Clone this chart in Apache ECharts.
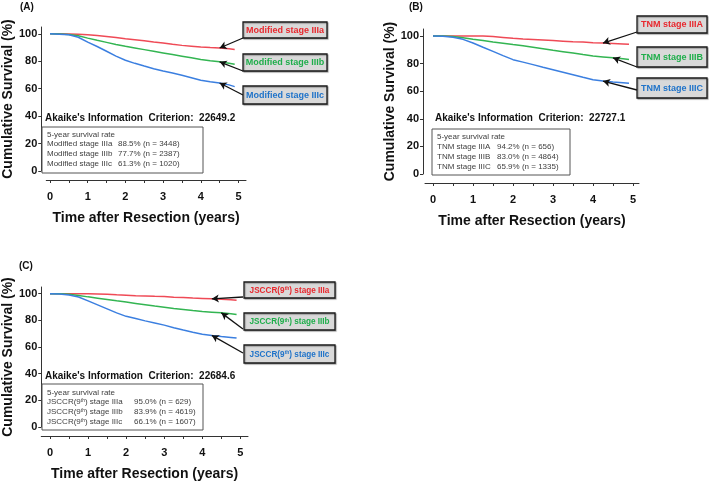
<!DOCTYPE html>
<html><head><meta charset="utf-8">
<script src="https://cdn.jsdelivr.net/npm/echarts@6/dist/echarts.min.js"></script>
<style>html,body{margin:0;padding:0;background:#fff}#c{width:709px;height:482px}</style>
</head><body><div id="c"></div>
<script>
// ---- data ----
const times = [0,0.25,0.5,0.75,1,1.25,1.5,1.75,2,2.25,2.5,2.75,3,3.25,3.5,3.75,4,4.25,4.5,4.75,4.9];
const xTickValues = [0,0.5,1,1.5,2,2.5,3,3.5,4,4.5,5];
const xLabelValues = [0,1,2,3,4,5];
const yLabelValues = [0,20,40,60,80,100];

// Panel A: modified stage
const aNames = ['Modified stage IIIa','Modified stage IIIb','Modified stage IIIc'];
const aIIIa = [100,100,99.9,99.7,99.3,98.8,98.1,97.3,96.4,95.7,95.0,94.1,93.3,92.4,91.6,91.0,90.4,90.0,89.7,89.2,88.6];
const aIIIb = [100,99.9,99.5,98.6,96.9,95.3,93.8,92.3,90.9,89.7,88.5,87.3,86.1,84.9,83.7,82.5,81.3,80.4,79.6,78.6,77.9];
const aIIIc = [100,99.8,99.3,97.5,94.0,90.8,87.3,83.8,80.8,78.5,76.5,74.6,72.9,71.4,69.8,68.0,66.2,65.0,64.2,62.8,61.5];
const aAIC = "Akaike's Information  Criterion:  22649.2";
const aRates = ['88.5% (n = 3448)','77.7% (n = 2387)','61.3% (n = 1020)'];

// Panel B: TNM stage
const bNames = ['TNM stage IIIA','TNM stage IIIB','TNM stage IIIC'];
const bIIIA = [100,100,100,100,100,100,99.5,98.9,98.3,97.8,97.4,97.0,96.6,96.2,95.8,95.5,95.1,94.8,94.5,94.2,94.0];
const bIIIB = [100,99.9,99.5,98.7,97.6,96.6,95.6,94.7,93.7,92.8,91.8,90.7,89.6,88.6,87.6,86.5,85.5,84.8,84.1,83.5,83.0];
const bIIIC = [100,99.8,99.0,97.5,94.9,91.8,88.8,85.7,82.8,81.0,79.2,77.3,75.5,73.7,71.9,70.0,68.2,67.3,66.6,66.1,65.8];
const bAIC = "Akaike's Information  Criterion:  22727.1";
const bRates = ['94.2% (n = 656)','83.0% (n = 4864)','65.9% (n = 1335)'];

// Panel C: JSCCR 9th
const cNames = ['JSCCR(9th) stage IIIa','JSCCR(9th) stage IIIb','JSCCR(9th) stage IIIc'];
const cIIIa = [100,100,100,100,100,99.8,99.5,99.1,98.8,98.5,98.3,98.0,97.8,97.4,97.1,96.7,96.4,96.1,95.8,95.4,95.0];
const cIIIb = [100,99.9,99.5,98.7,97.6,96.6,95.6,94.6,93.7,92.7,91.7,90.7,89.8,88.9,88.1,87.3,86.6,86.1,85.6,84.9,84.3];
const cIIIc = [100,99.8,99.0,97.5,94.6,91.6,88.6,85.6,83.0,81.3,79.6,78.0,76.4,74.5,72.7,71.1,69.6,68.7,67.9,67.2,66.7];
const cAIC = "Akaike's Information  Criterion:  22684.6";
const cRates = ['95.0% (n = 629)','83.9% (n = 4619)','66.1% (n = 1607)'];

const panelTitles = ['(A)','(B)','(C)'];
const yTitle = 'Cumulative Survival (%)';
const xTitle = 'Time after Resection (years)';
const rateHeader = '5-year survival rate';

// ---- styling / layout ----
const FF = 'Liberation Sans, Arial, sans-serif';
const lineColors = ['#ef4a56','#33b552','#3b7fe0'];
const textColors = ['#e8282e','#1fae4b','#1f73c9'];
const SFS = 8;

const layouts = [
  {grid:{left:39,top:27,width:207,height:144}, xmin:-0.1, xmax:5.2, yoff:5,
   title:[20,2], aic:[45,118], box:[42,127,161,46], col2:118, rows:[135,144,154,164],
   lbox:{x:243,w:84,fs:9,ys:[[22,16],[54,17],[86,18]]}, arrows:[[243,38,18],[243,71,18],[243,95,18]]},
  {grid:{left:425,top:29,width:214,height:145}, xmin:-0.2, xmax:5.15, yoff:2,
   title:[409,2], aic:[435,118], box:[432,129,138,46], col2:497, rows:[137,147,157,167],
   lbox:{x:637,w:70,fs:9,ys:[[16,17],[47,20],[78,20]]}, arrows:[[637,32,17],[637,67,18],[637,90,17]]},
  {grid:{left:35,top:287,width:213,height:141}, xmin:-0.23, xmax:5.2, yoff:0,
   title:[19,261], aic:[45,376], box:[42,384,161,46], col2:134, rows:[393,402,412,422],
   lbox:{x:244,w:91,fs:8.2,ys:[[282,16],[313,17],[345,18]]}, arrows:[[243,297,17],[243,329,18],[243,353,17]]}
];
const panels = [
  {names:aNames, data:[aIIIa,aIIIb,aIIIc], aic:aAIC, rates:aRates},
  {names:bNames, data:[bIIIA,bIIIB,bIIIC], aic:bAIC, rates:bRates},
  {names:cNames, data:[cIIIa,cIIIb,cIIIc], aic:cAIC, rates:cRates}
];

const grids=[], xAxes=[], yAxes=[], series=[], graphic=[];
function richName(s, color, bold, size){
  const m = s.match(/^(.*\()9th(\).*)$/);
  if(!m) return {text:s, rich:null};
  return {text: '{n|'+m[1]+'9}{s|th}{n|'+m[2]+'}', rich:{
    n:{fontFamily:FF,fontSize:size,fontWeight:bold?'bold':'normal',fill:color,color:color},
    s:{fontFamily:FF,fontSize:Math.round(size*0.6),fontWeight:bold?'bold':'normal',fill:color,color:color,verticalAlign:'top'}
  }};
}

layouts.forEach((L,gi)=>{
  const P = panels[gi];
  grids.push(Object.assign({containLabel:false}, L.grid));
  xAxes.push({type:'value', gridIndex:gi, min:L.xmin, max:L.xmax, offset:9,
    axisLine:{show:true,onZero:false,lineStyle:{color:'#333',width:1}},
    axisTick:{show:true,length:3,customValues:xTickValues,lineStyle:{color:'#333'}},
    axisLabel:{customValues:xLabelValues,fontFamily:FF,fontSize:11,fontWeight:'bold',color:'#111',margin:11},
    splitLine:{show:false},
    name:xTitle, nameLocation:'middle', nameGap:31,
    nameTextStyle:{fontFamily:FF,fontSize:14,fontWeight:'bold',color:'#111'}});
  yAxes.push({type:'value', gridIndex:gi, min:0, max:105, offset:L.yoff,
    axisLine:{show:true,onZero:false,lineStyle:{color:'#333',width:1}},
    axisTick:{show:true,length:3,customValues:yLabelValues,lineStyle:{color:'#333'}},
    axisLabel:{customValues:yLabelValues,fontFamily:FF,fontSize:11,fontWeight:'bold',color:'#111',margin:4},
    splitLine:{show:false},
    name:yTitle, nameLocation:'middle', nameGap:19,
    nameTextStyle:{fontFamily:FF,fontSize:14,fontWeight:'bold',color:'#111'}});
  P.data.forEach((arr,si)=>{
    const ar = L.arrows[si];
    series.push({type:'line', name:P.names[si], xAxisIndex:gi, yAxisIndex:gi,
      data: times.map((t,i)=>[t,arr[i]]), showSymbol:false, symbol:'none', smooth:false,
      lineStyle:{color:lineColors[si],width:1.5}, itemStyle:{color:lineColors[si]},
      z:3,
      markLine:{silent:true, symbol:['none','arrow'], symbolSize:[6,7], precision:4,
        lineStyle:{color:'#111',width:1.3,type:'solid'}, label:{show:false},
        emphasis:{disabled:true},
        data:[[{x:ar[0],y:ar[1]},{coord:[times[ar[2]],arr[ar[2]]]}]]}
    });
    const [by,bh] = L.lbox.ys[si];
    const fs = L.lbox.fs;
    const rn = richName(P.names[si], textColors[si], true, fs);
    graphic.push({type:'rect', shape:{x:L.lbox.x,y:by,width:L.lbox.w,height:bh},
      style:{fill:'#d9d9d9',stroke:'#1a1a1a',lineWidth:1.3,shadowColor:'rgba(0,0,0,0.3)',shadowOffsetX:1,shadowOffsetY:1,shadowBlur:1}, z:10});
    graphic.push({type:'text', x:L.lbox.x+L.lbox.w/2, y:by+bh/2+0.5,
      style:Object.assign({text:rn.text, fontFamily:FF, fontSize:fs, fontWeight:'bold', fill:textColors[si], align:'center', verticalAlign:'middle'}, rn.rich?{rich:rn.rich}:{}), z:11});
  });
  graphic.push({type:'text', x:L.title[0], y:L.title[1], style:{text:panelTitles[gi], fontFamily:FF, fontSize:10, fontWeight:'bold', fill:'#111'}});
  graphic.push({type:'text', x:L.aic[0], y:L.aic[1], style:{text:P.aic, fontFamily:FF, fontSize:10, fontWeight:'bold', fill:'#111', verticalAlign:'middle'}});
  const b=L.box;
  graphic.push({type:'rect', shape:{x:b[0],y:b[1],width:b[2],height:b[3]}, style:{fill:'#fff',stroke:'#555',lineWidth:1}, z:5});
  graphic.push({type:'text', x:b[0]+5, y:L.rows[0], style:{text:rateHeader, fontFamily:FF, fontSize:SFS, fill:'#404040', verticalAlign:'middle'}, z:6});
  P.names.forEach((nm,si)=>{
    const rn = richName(nm, '#404040', false, SFS);
    graphic.push({type:'text', x:b[0]+5, y:L.rows[si+1], style:Object.assign({text:rn.text, fontFamily:FF, fontSize:SFS, fill:'#404040', verticalAlign:'middle'}, rn.rich?{rich:rn.rich}:{}), z:6});
    graphic.push({type:'text', x:L.col2, y:L.rows[si+1], style:{text:P.rates[si], fontFamily:FF, fontSize:SFS, fill:'#404040', verticalAlign:'middle'}, z:6});
  });
});

const chart = echarts.init(document.getElementById('c'), null, {renderer:'canvas'});
chart.setOption({animation:false, backgroundColor:'#fff', textStyle:{fontFamily:FF},
  grid:grids, xAxis:xAxes, yAxis:yAxes, series:series, graphic:graphic});
</script></body></html>
